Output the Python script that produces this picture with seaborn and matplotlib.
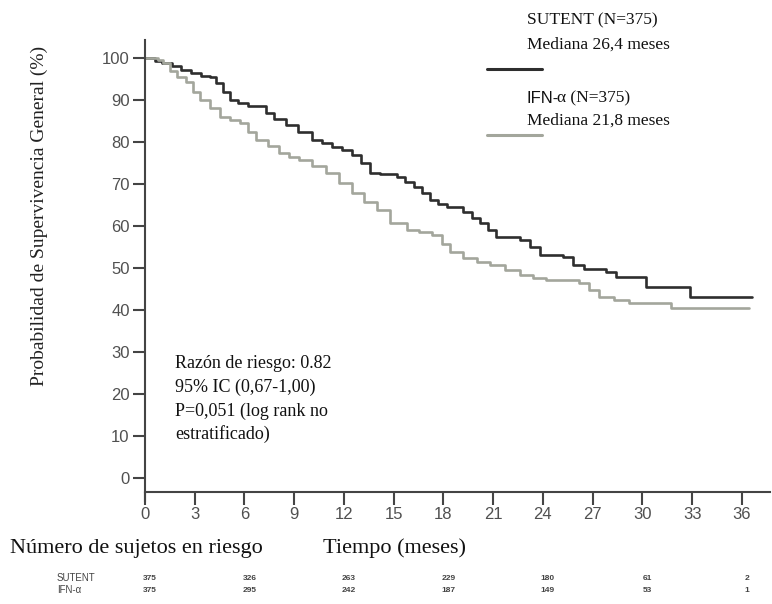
import matplotlib
matplotlib.use("Agg")
import matplotlib.pyplot as plt
import seaborn as sns
import pandas as pd
from matplotlib.lines import Line2D

# ---- data ----
sutent_t = [0, 0.6, 1.0, 1.6, 2.2, 2.8, 3.4, 3.9, 4.3, 4.7, 5.1, 5.6, 6.2, 7.3, 7.8, 8.5, 9.2,
            10.1, 10.7, 11.3, 11.9, 12.5, 13.0, 13.6, 14.2, 15.2, 15.7, 16.2, 16.7, 17.2, 17.7,
            18.2, 19.2, 19.7, 20.2, 20.7, 21.2, 22.6, 23.2, 23.8, 25.2, 25.8, 26.5, 27.8, 28.4,
            30.2, 32.9, 36.6]
sutent_s = [100, 99.4, 98.8, 98, 97.2, 96.5, 95.8, 95.5, 94, 92, 90, 89.2, 88.5, 86.8, 85.5, 84,
            82.5, 80.5, 79.8, 78.9, 78, 76.9, 75, 72.6, 72.5, 71.7, 70.5, 69.4, 67.8, 66.2, 65.3,
            64.6, 63.4, 62, 60.7, 59, 57.5, 56.7, 55, 53.1, 52.6, 50.7, 49.8, 49.1, 47.9,
            45.5, 43.2, 43.2]
ifn_t = [0, 0.8, 1.1, 1.5, 1.9, 2.5, 2.9, 3.3, 3.9, 4.5, 5.1, 5.7, 6.2, 6.7, 7.4, 8.1, 8.7, 9.3,
         10.1, 10.9, 11.7, 12.5, 13.2, 14.0, 14.8, 15.8, 16.5, 17.3, 17.9, 18.4, 19.2, 20.0, 20.8,
         21.7, 22.6, 23.4, 24.2, 26.2, 26.8, 27.4, 28.3, 29.2, 31.7, 36.4]
ifn_s = [100, 99.5, 98.8, 97, 95.5, 94.4, 92, 90, 88, 86, 85.2, 84.5, 82.5, 80.5, 79, 77.4, 76.5,
         75.7, 74.2, 72.6, 70.2, 67.8, 65.8, 63.8, 60.7, 59, 58.5, 57.9, 55.8, 53.9, 52.4, 51.5,
         50.7, 49.5, 48.3, 47.6, 47.1, 46.4, 44.8, 43.2, 42.3, 41.6, 40.4, 40.4]

x_ticks = [0, 3, 6, 9, 12, 15, 18, 21, 24, 27, 30, 33, 36]
y_ticks = [0, 10, 20, 30, 40, 50, 60, 70, 80, 90, 100]
risk_months = [0, 6, 12, 18, 24, 30, 36]
risk_sutent = [375, 326, 263, 229, 180, 61, 2]
risk_ifn = [375, 295, 242, 187, 149, 53, 1]

dark = "#2e2e2e"
grey = "#a3a69c"
axis_col = "#444444"
tick_col = "#505050"

df = pd.concat([
    pd.DataFrame({"t": sutent_t, "s": sutent_s, "g": "SUTENT"}),
    pd.DataFrame({"t": ifn_t, "s": ifn_s, "g": "IFN"}),
])

sns.set_style("white")
plt.rcParams["font.family"] = ["Liberation Serif", "DejaVu Serif"]

fig = plt.figure(figsize=(7.72, 6.04), dpi=100)
ax = fig.add_axes([145 / 772, 1 - 492 / 604, (770 - 145) / 772, (492 - 40) / 604])

sns.lineplot(data=df, x="t", y="s", hue="g", palette={"SUTENT": dark, "IFN": grey},
             estimator=None, sort=False, drawstyle="steps-post", linewidth=1.9,
             legend=False, ax=ax)

ax.set_xlim(0, 625 / 16.58)
ax.set_ylim(-3.33, 104.3)
ax.set_xticks(x_ticks)
ax.set_yticks(y_ticks)
ax.set_xticklabels([str(v) for v in x_ticks])
ax.set_yticklabels([str(v) for v in y_ticks])
narrow = ["Liberation Sans Narrow", "Liberation Sans", "DejaVu Sans"]
for lab in ax.get_xticklabels() + ax.get_yticklabels():
    lab.set_family(narrow)
    lab.set_fontsize(12)
    lab.set_color(tick_col)
ax.tick_params(axis="both", direction="out", length=9, width=1.5, color=axis_col, pad=2,
               bottom=True, left=True)
for side in ["top", "right"]:
    ax.spines[side].set_visible(False)
for side in ["left", "bottom"]:
    ax.spines[side].set_color(axis_col)
    ax.spines[side].set_linewidth(1.5)
ax.spines["left"].set_bounds(-5.5, 104.3)
ax.set_xlabel("")
ax.set_ylabel("Probabilidad de Supervivencia General (%)", fontsize=14, color="#222222")
ax.yaxis.set_label_coords(-0.155, 0.61)
ax.grid(False)
ax.patch.set_alpha(0)

# legend block
fs = 12.5
fig.text(527 / 772, 1 - 20 / 604, "SUTENT (N=375)", fontsize=fs, va="center", ha="left", color="#111111")
fig.text(527 / 772, 1 - 45 / 604, "Mediana 26,4 meses", fontsize=fs, va="center", ha="left", color="#111111")
fig.add_artist(Line2D([487 / 772, 542 / 772], [1 - 69 / 604, 1 - 69 / 604], color=dark, linewidth=2.2))
fig.text(527 / 772, 1 - 98 / 604, "IFN-", fontsize=fs - 0.5, va="center", ha="left",
         color="#111111", family=["Liberation Sans", "DejaVu Sans"])
fig.text(557 / 772, 1 - 98 / 604, "α (N=375)", fontsize=fs, va="center", ha="left", color="#111111")
fig.text(527 / 772, 1 - 121 / 604, "Mediana 21,8 meses", fontsize=fs, va="center", ha="left", color="#111111")
fig.add_artist(Line2D([487 / 772, 542 / 772], [1 - 135 / 604, 1 - 135 / 604], color=grey, linewidth=2.2))

# statistics annotation
stats = ["Razón de riesgo: 0.82", "95% IC (0,67-1,00)", "P=0,051 (log rank no", "estratificado)"]
for i, s in enumerate(stats):
    fig.text(175 / 772, 1 - (364 + 23.5 * i) / 604, s, fontsize=13, va="center", ha="left", color="#111111")

# bottom labels
fig.text(10 / 772, 1 - 548 / 604, "Número de sujetos en riesgo", fontsize=16, va="center", ha="left", color="#111111")
fig.text(323 / 772, 1 - 548 / 604, "Tiempo (meses)", fontsize=16, va="center", ha="left", color="#111111")

# numbers at risk
trans = matplotlib.transforms.blended_transform_factory(ax.transData, fig.transFigure)
row_y = [1 - 578 / 604, 1 - 590 / 604]
sans = ["Liberation Sans", "DejaVu Sans"]
fig.text(57 / 772, row_y[0], "SUTENT", fontsize=7, va="center", ha="left", color="#444444", family=sans)
fig.text(57 / 772, row_y[1], "IFN-α", fontsize=7, va="center", ha="left", color="#444444", family=sans)
for m, a, b in zip(risk_months, risk_sutent, risk_ifn):
    ax.text(m + 0.3, row_y[0], str(a), transform=trans, fontsize=6, va="center", ha="center",
            color="#444444", family=sans, fontweight="bold")
    ax.text(m + 0.3, row_y[1], str(b), transform=trans, fontsize=6, va="center", ha="center",
            color="#444444", family=sans, fontweight="bold")

fig.savefig("out.png", dpi=100)
